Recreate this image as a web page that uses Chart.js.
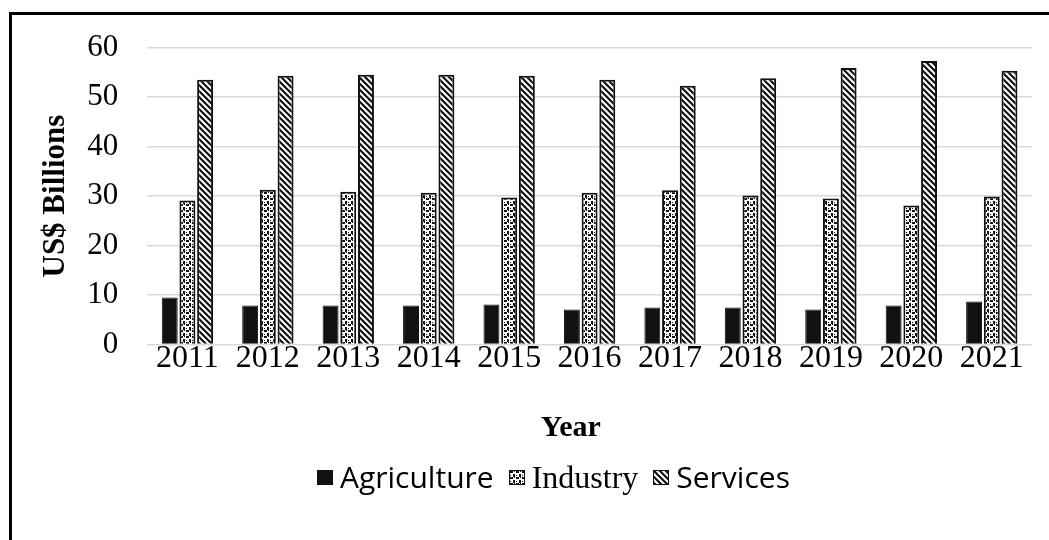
<!DOCTYPE html>
<html>
<head>
<meta charset="utf-8">
<script src="https://cdn.jsdelivr.net/npm/chart.js@4.4.0/dist/chart.umd.min.js"></script>
<style>
    html, body { margin: 0; padding: 0; background: #fff; overflow: hidden; }
    #moldura {
        position: absolute;
        left: 9px;
        top: 12px;
        width: 1100px;
        height: 600px;
        border-left: 3px solid #000;
        border-top: 3px solid #000;
    }
    #wrap { position: absolute; left: 0; top: 0; width: 1049px; height: 540px; }
    #legenda {
        position: absolute;
        left: 317px;
        top: 459px;
        display: flex;
        align-items: center;
        white-space: nowrap;
        line-height: 36px;
        color: #000;
    }
    #legenda .item { display: flex; align-items: center; margin-right: 15px; }
    #legenda .caixa {
        display: inline-block;
        width: 16px;
        height: 15px;
        margin-right: 7px;
        box-sizing: border-box;
    }
    .sans { font-family: "Open Sans"; font-size: 30px; }
    .serif { font-family: "Liberation Serif"; font-size: 32px; }
</style>
</head>
<body>
<div id="moldura"></div>
<div id="wrap"><canvas id="graficoBarras" width="1049" height="540"></canvas></div>
<div id="legenda"></div>
<script>
const years = ['2011', '2012', '2013', '2014', '2015', '2016', '2017', '2018', '2019', '2020', '2021'];
const agriculture = [9.5, 7.9, 7.9, 7.9, 8.1, 7.1, 7.5, 7.5, 7.1, 7.9, 8.7];
const industry = [29.1, 31.3, 30.9, 30.7, 29.7, 30.7, 31.2, 30.1, 29.5, 28.1, 29.9];
const services = [53.5, 54.3, 54.5, 54.5, 54.3, 53.5, 52.3, 53.8, 55.9, 57.3, 55.3];
const yTicks = [0, 10, 20, 30, 40, 50, 60];

// tile de pontinhos (Industry)
function tilePontos() {
    const c = document.createElement('canvas');
    c.width = 6; c.height = 6;
    const p = c.getContext('2d');
    p.fillStyle = '#fff';
    p.fillRect(0, 0, 6, 6);
    p.fillStyle = '#111';
    p.fillRect(0, 0, 3, 2);
    p.fillRect(3, 3, 2, 3);
    p.fillRect(4, 0, 1, 1);
    p.fillRect(0, 4, 1, 1);
    return c;
}

// tile de listras diagonais (Services)
function tileListras() {
    const c = document.createElement('canvas');
    c.width = 6; c.height = 6;
    const p = c.getContext('2d');
    p.fillStyle = '#fff';
    p.fillRect(0, 0, 6, 6);
    p.strokeStyle = '#111';
    p.lineWidth = 2.2;
    p.beginPath();
    p.moveTo(-1, -1); p.lineTo(7, 7);
    p.moveTo(-4, 2); p.lineTo(4, 10);
    p.moveTo(2, -4); p.lineTo(10, 4);
    p.stroke();
    return c;
}

const ctx = document.getElementById('graficoBarras').getContext('2d');
const pontos = tilePontos();
const listras = tileListras();

new Chart(ctx, {
    type: 'bar',
    data: {
        labels: years,
        datasets: [
            {
                label: 'Agriculture',
                data: agriculture,
                backgroundColor: '#111',
                borderColor: '#111',
                borderWidth: 1
            },
            {
                label: 'Industry',
                data: industry,
                backgroundColor: ctx.createPattern(pontos, 'repeat'),
                borderColor: '#111',
                borderWidth: 2
            },
            {
                label: 'Services',
                data: services,
                backgroundColor: ctx.createPattern(listras, 'repeat'),
                borderColor: '#111',
                borderWidth: 2
            }
        ]
    },
    options: {
        responsive: false,
        animation: false,
        categoryPercentage: 0.66,
        barPercentage: 0.9,
        layout: {
            padding: { left: 37, right: 17, top: 24, bottom: 94 }
        },
        plugins: {
            legend: { display: false }, // legenda feita em HTML (fontes diferentes por item)
            tooltip: { enabled: false }
        },
        scales: {
            x: {
                grid: { display: false },
                border: { display: false },
                ticks: {
                    color: '#000',
                    padding: -13,
                    font: { family: '"Liberation Serif"', size: 32 }
                },
                title: {
                    display: true,
                    // espaços no fim só para puxar o título um pouco para a esquerda
                    text: 'Year\u00a0\u00a0\u00a0\u00a0\u00a0',
                    color: '#000',
                    padding: { top: 45, bottom: 0 },
                    font: { family: '"Liberation Serif"', size: 30, weight: 'bold' }
                }
            },
            y: {
                min: 0,
                max: 60,
                afterBuildTicks(axis) {
                    axis.ticks = yTicks.map(v => ({ value: v }));
                },
                grid: { color: '#d9d9d9', lineWidth: 1.5, drawTicks: false },
                border: { display: false },
                ticks: {
                    color: '#000',
                    padding: 29,
                    font: { family: '"Liberation Serif"', size: 31 }
                },
                title: {
                    display: true,
                    text: 'US$ Billions',
                    color: '#000',
                    padding: { top: 0, bottom: -16 },
                    font: { family: '"Liberation Serif"', size: 31, weight: 'bold' }
                }
            }
        }
    }
});

// Monta a legenda
const itensLegenda = [
    { texto: 'Agriculture', fundo: '#111', classe: 'sans' },
    { texto: 'Industry', fundo: `url(${pontos.toDataURL()})`, classe: 'serif' },
    { texto: 'Services', fundo: `url(${listras.toDataURL()})`, classe: 'sans' }
];
const legenda = document.getElementById('legenda');
itensLegenda.forEach(item => {
    const div = document.createElement('div');
    div.className = 'item';
    const caixa = document.createElement('span');
    caixa.className = 'caixa';
    caixa.style.background = item.fundo;
    caixa.style.border = '1.5px solid #111';
    const texto = document.createElement('span');
    texto.className = item.classe;
    texto.textContent = item.texto;
    div.appendChild(caixa);
    div.appendChild(texto);
    legenda.appendChild(div);
});
</script>
</body>
</html>
